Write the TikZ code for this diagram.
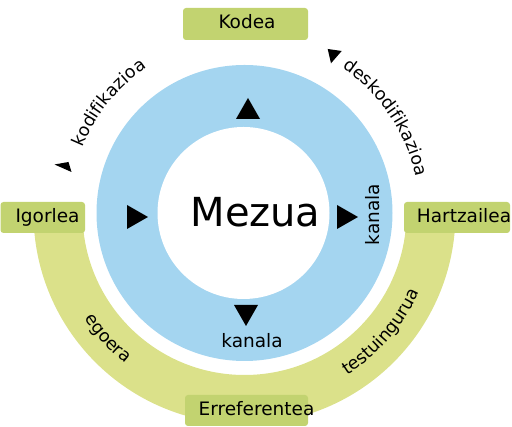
\documentclass[tikz,border=0pt]{standalone}
\usepackage{fontspec}
\setmainfont{DejaVu Sans}
\usetikzlibrary{decorations.text}
\definecolor{ringblue}{RGB}{164,213,240}
\definecolor{boxgreen}{RGB}{194,211,112}
\definecolor{bandgreen}{RGB}{219,225,138}
\newcommand\lblfont{\fontsize{18.5}{20}\selectfont}
\newcommand\curvefont{\fontsize{17.5}{18}\selectfont}
\tikzset{
  labelbox/.style={fill=boxgreen, rounded corners=3pt},
  lbl/.style={anchor=base, inner sep=0pt, font=\lblfont},
  tri/.style={fill=black},
}
\begin{document}
\begin{tikzpicture}[x=1pt,y=1pt]
\useasboundingbox (0,0) rectangle (512,427);
\coordinate (C) at (244.5,214);
% green band
\fill[bandgreen] ([shift={(180:211pt)}]C) arc (180:360:211pt)
  -- ([shift={(0:162pt)}]C) arc (360:180:162pt) -- cycle;
% blue ring
\fill[ringblue] (C) circle (148pt);
\fill[white] (243.5,214) circle (86pt);
% boxes
\fill[labelbox] (183,387) rectangle (308,419) coordinate (kodeabox);
\fill[labelbox] (0.5,194) rectangle (85,225) coordinate (igorbox);
\fill[labelbox] (404,194) rectangle (510,225) coordinate (hartzbox);
\fill[labelbox] (185,1) rectangle (308,32) coordinate (errefbox);
% labels
\node[lbl] (kodea) at (247,398) {Kodea};
\node[lbl] (igorlea) at (47.5,204) {Igorlea};
\node[lbl] (hartzailea) at (464,204) {Hartzailea};
\node[lbl] (erref) at (256.5,11) {Erreferentea};
\node[anchor=base, inner sep=0pt, font=\fontsize{40}{40}\selectfont] (mezua) at (255.5,200) {Mezua};
\node[lbl] (kanalab) at (252,79) {kanala};
\node[lbl, rotate=90] (kanalar) at (379,212.5) {kanala};
% big triangles
\fill[tri] (236,308) -- (260,308) -- (248,329) -- cycle;
\fill[tri] (127,222) -- (127,198) -- (148,210) -- cycle;
\fill[tri] (337,222) -- (337,198) -- (358,210) -- cycle;
\fill[tri] (234,122) -- (258,122) -- (246,101) -- cycle;
% small triangles
\fill[tri] (54.5,262.5) -- (68.5,265) -- (71.5,255) -- cycle;
\fill[tri] (327.7,378) -- (341.7,376) -- (331,363.7) -- cycle;
% curved texts
\path[decorate, decoration={text along path, text={|\curvefont|kodifikazioa}, text align=center}]
  ([shift={(171:175pt)}]C) arc (171:111:175pt);
\path[decorate, decoration={text along path, text={|\curvefont|deskodifikazioa}, text align=center}]
  ([shift={(70:175pt)}]C) arc (70:-2:175pt);
\path[decorate, decoration={text along path, text={|\curvefont|egoera}, text align=center}]
  ([shift={(197:192pt)}]C) arc (197:248:192pt);
\path[decorate, decoration={text along path, text={|\curvefont|testuingurua}, text align=center}]
  ([shift={(290:192pt)}]C) arc (290:348:192pt);
\end{tikzpicture}
\end{document}
